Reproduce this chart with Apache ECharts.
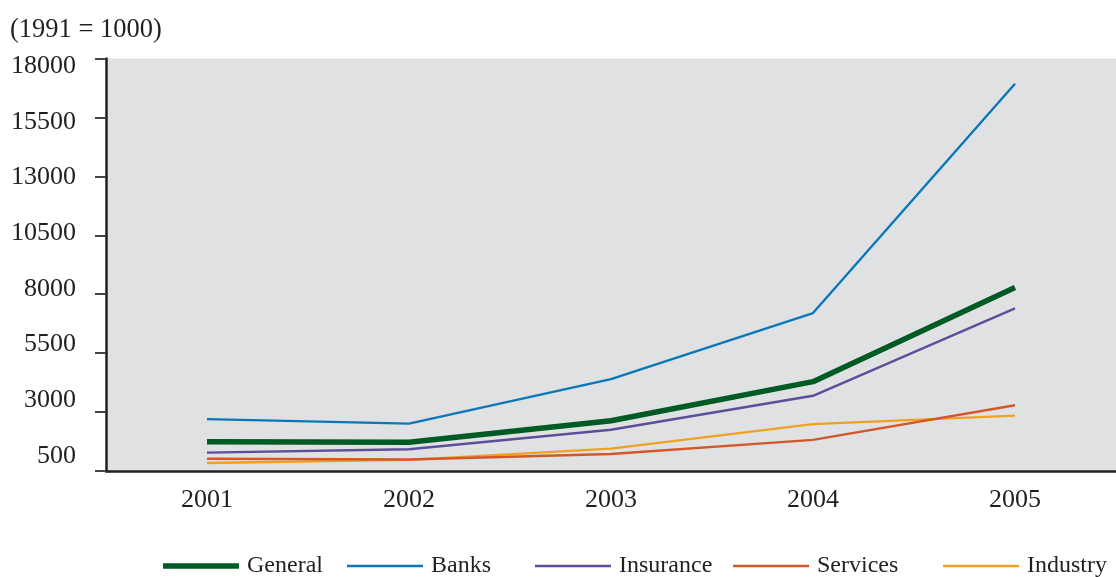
<!DOCTYPE html>
<html>
<head>
<meta charset="utf-8">
<style>
  html, body { margin: 0; padding: 0; background: #ffffff; }
  #chart { width: 1116px; height: 577px; }
</style>
<script src="https://cdn.jsdelivr.net/npm/echarts@6/dist/echarts.min.js"></script>
</head>
<body>
<div id="chart"></div>
<script>
// Stock index by sector, 1991 = 1000
const years = ['2001', '2002', '2003', '2004', '2005'];
const general   = [1740, 1720, 2630, 4290, 8280];
const banks     = [2700, 2510, 4400, 7200, 16930];
const insurance = [1280, 1420, 2250, 3690, 7400];
const services  = [1020, 990, 1220, 1820, 3290];
const industry  = [840, 970, 1450, 2490, 2850];

const yMin = 500;
const yMax = 18000;
const yStep = 2500;

const seriesNames = ['General', 'Banks', 'Insurance', 'Services', 'Industry'];
const seriesData = [general, banks, insurance, services, industry];
const seriesColors = ['#005a24', '#0a78b8', '#5b4e9b', '#d4572a', '#efa221'];
const seriesWidths = [5.5, 2.4, 2.4, 2.4, 2.4];
const legendLeft = [163, 347, 535, 733, 943];

const font = '"Liberation Serif", "DejaVu Serif", serif';
const textColor = '#231f20';

const chart = echarts.init(document.getElementById('chart'));

chart.setOption({
  animation: false,
  backgroundColor: '#ffffff',
  textStyle: { fontFamily: font },
  title: {
    text: '(1991 = 1000)',
    left: 5,
    top: 12,
    textStyle: { fontFamily: font, fontSize: 26.5, fontWeight: 'normal', color: textColor }
  },
  grid: [
    {
      // plotting area
      left: 106,
      right: -14,
      top: 58.5,
      bottom: 106,
      show: true,
      backgroundColor: '#e0e1e3',
      borderWidth: 0
    },
    {
      // value scale printed beside the plot, a little more compressed than the ticks
      left: 106,
      right: -14,
      top: 66,
      bottom: 121,
      show: false
    }
  ],
  legend: seriesNames.map((name, i) => ({
    data: [name],
    left: legendLeft[i],
    top: 554,
    padding: 0,
    icon: 'rect',
    itemWidth: 76,
    itemHeight: seriesWidths[i],
    itemGap: 0,
    textStyle: { fontFamily: font, fontSize: 24, color: textColor, lineHeight: 24, padding: [0, 0, 0, 3] }
  })),
  xAxis: [
    {
      type: 'category',
      gridIndex: 0,
      data: years,
      boundaryGap: true,
      axisLine: { show: true, lineStyle: { color: '#231f20', width: 2.5 } },
      axisTick: { show: false },
      axisLabel: { fontFamily: font, fontSize: 26, color: textColor, margin: 16 },
      splitLine: { show: false }
    },
    {
      type: 'category',
      gridIndex: 1,
      data: years,
      show: false
    }
  ],
  yAxis: [
    {
      type: 'value',
      gridIndex: 0,
      min: yMin,
      max: yMax,
      interval: yStep,
      axisLine: { show: true, lineStyle: { color: '#231f20', width: 2.5 } },
      axisTick: { show: true, length: 11, lineStyle: { color: '#444444', width: 2 } },
      axisLabel: { show: false },
      splitLine: { show: false }
    },
    {
      type: 'value',
      gridIndex: 1,
      min: yMin,
      max: yMax,
      interval: yStep,
      axisLine: { show: false },
      axisTick: { show: false },
      axisLabel: { fontFamily: font, fontSize: 26, color: textColor, margin: 30, formatter: (v) => String(v) },
      splitLine: { show: false }
    }
  ],
  series: seriesNames.map((name, i) => ({
    name: name,
    type: 'line',
    xAxisIndex: 0,
    yAxisIndex: 0,
    data: seriesData[i],
    symbol: 'none',
    z: i === 0 ? 10 : 5 - i,
    itemStyle: { color: seriesColors[i] },
    lineStyle: { color: seriesColors[i], width: seriesWidths[i] }
  }))
});
</script>
</body>
</html>
